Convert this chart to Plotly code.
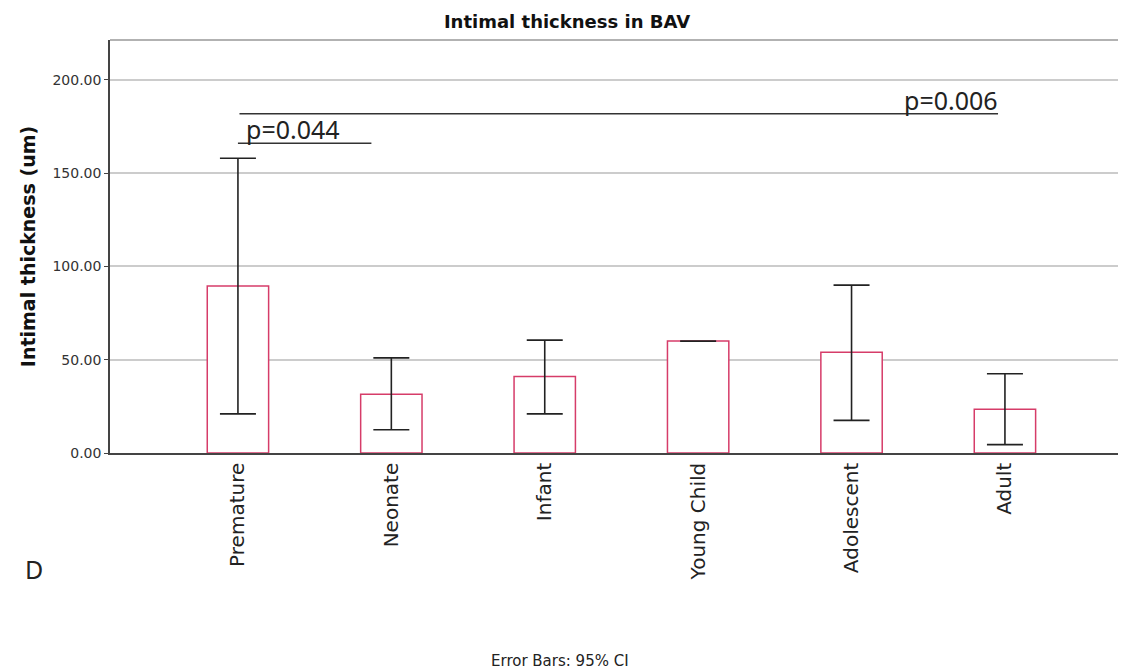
import plotly.graph_objects as go

categories = ["Premature", "Neonate", "Infant", "Young Child", "Adolescent", "Adult"]
means = [89.5, 31.5, 41.0, 60.0, 54.0, 23.5]
ci_low = [21.0, 12.5, 21.0, 60.0, 17.5, 4.5]
ci_high = [158.0, 51.0, 60.5, 60.0, 90.0, 42.5]

# significance comparisons: (start index, end index, y value, label)
comp_start = [0.0, 0.01]
comp_end = [0.87, 4.955]
comp_y = [166.0, 181.8]
comp_label = ["p=0.044", "p=0.006"]

FONT = "DejaVu Sans"
PFONT = "Noto Sans"
PINK = "rgb(214,60,105)"

x_idx = list(range(len(categories)))

# page offset of the browser body (8px)
OFF = 8
W, H = 1110, 671
L, R, T, B = 110 - OFF, 0, 40 - OFF, H - 453 + OFF


def px_to_paper(px, py):
    return ((px - OFF - L) / (W - L - R), (H - B - (py - OFF)) / (H - T - B))


fig = go.Figure()
fig.add_trace(go.Bar(
    x=x_idx, y=means, width=0.4,
    marker=dict(color="white", line=dict(color=PINK, width=1.5)),
    error_y=dict(type="data", symmetric=False,
                 array=[h - m for h, m in zip(ci_high, means)],
                 arrayminus=[m - l for m, l in zip(means, ci_low)],
                 color="#222222", thickness=1.6, width=18),
    showlegend=False,
))

shapes = []
annotations = []
for i, (s, e, y, lab) in enumerate(zip(comp_start, comp_end, comp_y, comp_label)):
    shapes.append(dict(type="line", xref="x", yref="y", x0=s, x1=e, y0=y, y1=y,
                       line=dict(color="#333333", width=1.5)))
    if i == 0:
        annotations.append(dict(x=s + 0.04, y=y, xref="x", yref="y", text=lab, showarrow=False,
                                xanchor="left", yanchor="bottom", yshift=-5,
                                font=dict(family=PFONT, size=25, color="#222222")))
    else:
        annotations.append(dict(x=e + 0.01, y=y, xref="x", yref="y", text=lab, showarrow=False,
                                xanchor="right", yanchor="bottom", yshift=-5,
                                font=dict(family=PFONT, size=25, color="#222222")))

dx, dy = px_to_paper(34, 569)
annotations.append(dict(x=dx, y=dy, xref="paper", yref="paper", text="D", showarrow=False,
                        xanchor="center", yanchor="middle",
                        font=dict(family=PFONT, size=25, color="#222222")))
ex, ey = px_to_paper(560, 661)
annotations.append(dict(x=ex, y=ey, xref="paper", yref="paper", text="Error Bars: 95% CI",
                        xanchor="center", yanchor="middle",
                        showarrow=False, font=dict(family=FONT, size=15, color="#222222")))

fig.update_layout(
    width=W, height=H,
    margin=dict(l=L, r=R, t=T, b=B),
    plot_bgcolor="white", paper_bgcolor="white",
    title=dict(text="<b>Intimal thickness in BAV</b>", x=(567 - OFF) / W, xref="container",
               xanchor="center", y=1 - (22 - OFF) / H, yref="container", yanchor="middle",
               font=dict(family=FONT, size=18, color="#111111")),
    shapes=shapes,
    annotations=annotations,
)
fig.update_xaxes(
    range=[-0.834, 5.737], tickmode="array", tickvals=x_idx, ticktext=categories,
    tickangle=-90, showgrid=False, showline=True, linecolor="#444444", linewidth=1.5,
    ticks="", tickfont=dict(family=FONT, size=20, color="#222222"), mirror=False,
)
fig.update_yaxes(
    range=[0, 221.4], tickvals=[0, 50, 100, 150, 200],
    ticktext=["0.00", "50.00", "100.00", "150.00", "200.00"],
    showgrid=True, gridcolor="#cccccc", gridwidth=1.5,
    showline=True, linecolor="#444444", linewidth=1.5, ticks="outside", ticklen=4,
    tickcolor="#444444", zeroline=False,
    tickfont=dict(family=FONT, size=14, color="#333333"),
    title=dict(text="<b>Intimal thickness (um)</b>", font=dict(family=FONT, size=19, color="#111111"),
               standoff=12),
)
# top frame line
fig.add_shape(type="line", xref="paper", yref="paper", x0=0, x1=1, y0=1, y1=1,
              line=dict(color="#999999", width=1.5))

fig.write_html("out.html")
